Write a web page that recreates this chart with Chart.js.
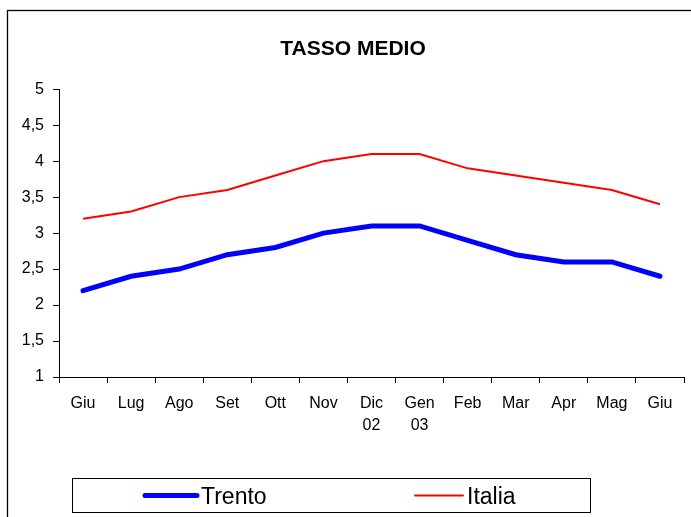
<!DOCTYPE html>
<html>
<head>
<meta charset="utf-8">
<script src="https://cdn.jsdelivr.net/npm/chart.js@4.4.0/dist/chart.umd.min.js"></script>
<style>
  html, body { margin: 0; padding: 0; background: #fff; }
  #wrap { width: 691px; height: 517px; }
</style>
</head>
<body>
<div id="wrap"><canvas id="my_chart" width="691" height="517"></canvas></div>
<script>
const months = ['Giu', 'Lug', 'Ago', 'Set', 'Ott', 'Nov', ['Dic', '02'], ['Gen', '03'], 'Feb', 'Mar', 'Apr', 'Mag', 'Giu'];
const trento = [2.2, 2.4, 2.5, 2.7, 2.8, 3.0, 3.1, 3.1, 2.9, 2.7, 2.6, 2.6, 2.4];
const italia = [3.2, 3.3, 3.5, 3.6, 3.8, 4.0, 4.1, 4.1, 3.9, 3.8, 3.7, 3.6, 3.4];
const yTicks = [1, 1.5, 2, 2.5, 3, 3.5, 4, 4.5, 5];

const FONT = '"Liberation Sans", Arial, sans-serif';

// outer frame of the chart (runs off the right and bottom edges)
const frame = {
    id: 'frame',
    beforeDraw(chart) {
        const ctx = chart.ctx;
        ctx.save();
        ctx.fillStyle = '#fff';
        ctx.fillRect(0, 0, chart.width, chart.height);
        ctx.strokeStyle = '#000';
        ctx.lineWidth = 1.3;
        ctx.strokeRect(7.5, 10.5, 720, 540);
        ctx.restore();
    }
};

// boxed legend like the original spreadsheet chart
const legendBox = {
    id: 'legendBox',
    afterDraw(chart) {
        const ctx = chart.ctx;
        const slots = [{ x: 145, w: 52 }, { x: 415, w: 48 }];
        ctx.save();
        ctx.strokeStyle = '#000';
        ctx.lineWidth = 1;
        ctx.strokeRect(72.5, 478.5, 518, 34);
        chart.data.datasets.forEach((ds, i) => {
            const s = slots[i];
            ctx.strokeStyle = ds.borderColor;
            ctx.lineWidth = ds.borderWidth;
            ctx.lineCap = 'round';
            ctx.beginPath();
            ctx.moveTo(s.x, 495.5);
            ctx.lineTo(s.x + s.w, 495.5);
            ctx.stroke();
            ctx.fillStyle = '#000';
            ctx.font = '23px ' + FONT;
            ctx.textBaseline = 'alphabetic';
            ctx.fillText(ds.label, s.x + s.w + 4, 504);
        });
        ctx.restore();
    }
};

const info = {
    labels: months,
    datasets: [
        {
            label: 'Trento',
            data: trento,
            borderColor: '#0000ff',
            backgroundColor: '#0000ff',
            borderWidth: 5,
            borderCapStyle: 'round',
            pointRadius: 0,
            tension: 0
        },
        {
            label: 'Italia',
            data: italia,
            borderColor: '#ff0000',
            backgroundColor: '#ff0000',
            borderWidth: 2,
            pointRadius: 0,
            tension: 0
        }
    ]
};

const options = {
    responsive: false,
    animation: false,
    devicePixelRatio: 1,
    layout: { padding: { left: 22, right: 7, top: 0, bottom: 80 } },
    scales: {
        x: {
            offset: true,
            grid: {
                display: true,
                drawOnChartArea: false,
                drawTicks: true,
                tickLength: 6,
                color: '#000',
                offset: true
            },
            border: { display: true, color: '#000', width: 1 },
            ticks: {
                color: '#000',
                padding: 10,
                maxRotation: 0,
                autoSkip: false,
                font: { family: FONT, size: 16, lineHeight: 1.35 }
            },
            afterFit: (scale) => { scale.height = 60; }
        },
        y: {
            min: 1,
            max: 5,
            afterBuildTicks: (scale) => { scale.ticks = yTicks.map((v) => ({ value: v })); },
            grid: {
                display: true,
                drawOnChartArea: false,
                drawTicks: true,
                tickLength: 6,
                color: '#000'
            },
            border: { display: true, color: '#000', width: 1 },
            ticks: {
                color: '#000',
                padding: 9,
                font: { family: FONT, size: 16 },
                callback: (v) => String(v).replace('.', ',')
            },
            afterFit: (scale) => { scale.width = 37; }
        }
    },
    plugins: {
        legend: { display: false },
        tooltip: { enabled: false },
        title: {
            display: true,
            text: 'TASSO MEDIO',
            color: '#000',
            font: { family: FONT, size: 21, weight: 'bold', lineHeight: 1.2 },
            padding: { top: 37, bottom: 27 }
        }
    }
};

const config = {
    type: 'line',
    data: info,
    options,
    plugins: [frame, legendBox]
};
const myChart = new Chart(document.getElementById('my_chart'), config);
</script>
</body>
</html>
